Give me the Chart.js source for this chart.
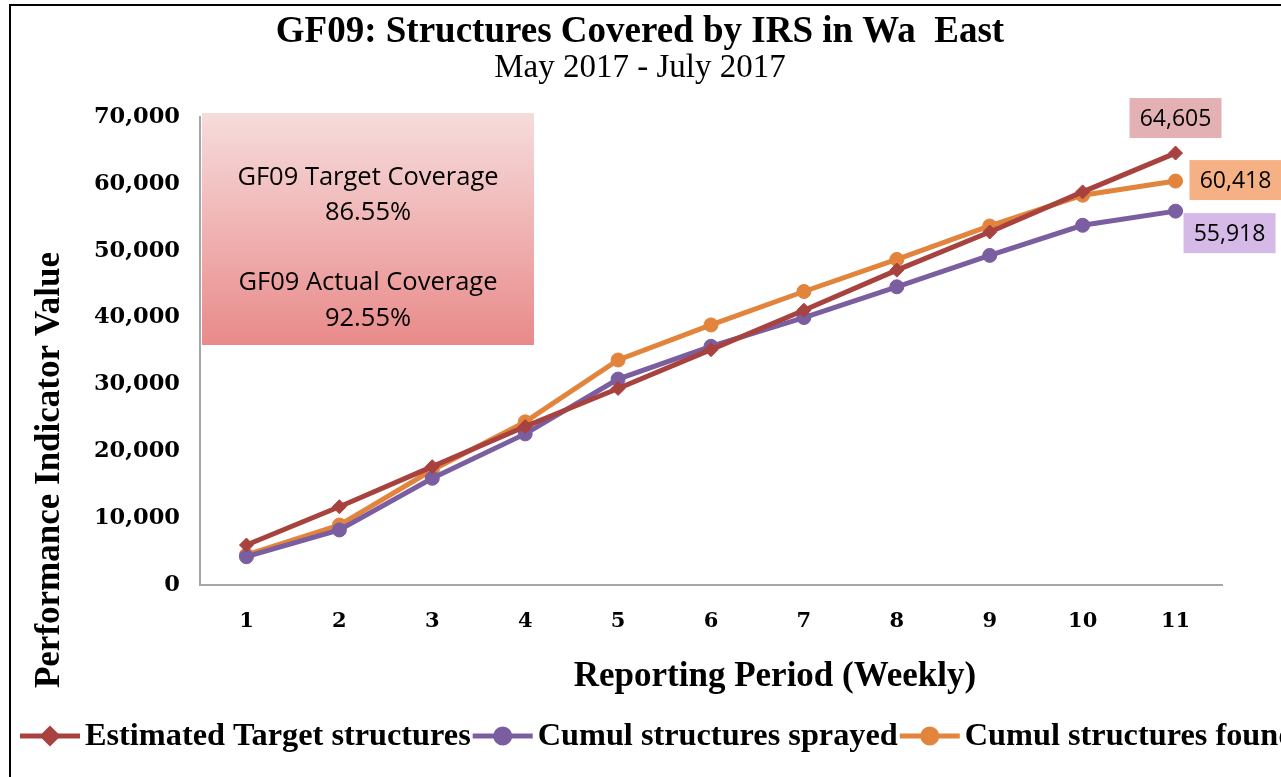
<!DOCTYPE html>
<html>
<head>
<meta charset="utf-8">
<script src="https://cdn.jsdelivr.net/npm/chart.js@4/dist/chart.umd.min.js"></script>
<style>
html,body{margin:0;padding:0;background:#fff;overflow:hidden;}
canvas{display:block;}
</style>
</head>
<body>
<canvas id="c" width="1281" height="777"></canvas>
<script>
const titleText = 'GF09: Structures Covered by IRS in Wa  East';
const subtitleText = 'May 2017 - July 2017';
const xAxisTitle = 'Reporting Period (Weekly)';
const yAxisTitle = 'Performance Indicator Value';
const categories = ['1','2','3','4','5','6','7','8','9','10','11'];
const seriesNames = ['Estimated Target structures','Cumul structures sprayed','Cumul structures found'];
const targetValues  = [5980, 11700, 17700, 23700, 29400, 35200, 41100, 47100, 52800, 58800, 64605];
const sprayedValues = [4230, 8230, 15960, 22600, 30800, 35700, 40000, 44600, 49300, 53800, 55918];
const foundValues   = [4490, 8970, 17200, 24400, 33650, 38900, 43900, 48700, 53700, 58300, 60418];
const yTickValues = [0, 10000, 20000, 30000, 40000, 50000, 60000, 70000];
const boxLines = ['GF09 Target Coverage', '86.55%', 'GF09 Actual Coverage', '92.55%'];

const SERIF = '"Liberation Serif", serif';
const TICKF = '"DejaVu Serif", serif';
const SANS = '"Open Sans", sans-serif';
const RED = '#a8423f', PURPLE = '#7b5e9f', ORANGE = '#e2843c';
const fmt = v => v.toLocaleString('en-US');

const deco = {
  id: 'deco',
  beforeDraw(chart) {
    const ctx = chart.ctx;
    ctx.save();
    ctx.fillStyle = '#fff';
    ctx.fillRect(0, 0, chart.width, chart.height);
    ctx.strokeStyle = '#000';
    ctx.lineWidth = 2;
    ctx.strokeRect(10, 5, chart.width + 30, chart.height + 30);
    ctx.restore();
  },
  beforeDatasetsDraw(chart) {
    const ctx = chart.ctx, ca = chart.chartArea;
    const x0 = ca.left + 2, y0 = ca.top - 4, w = 332, h = 232;
    ctx.save();
    const g = ctx.createLinearGradient(0, y0, 0, y0 + h);
    g.addColorStop(0, '#f6dcdc');
    g.addColorStop(1, '#e98a8a');
    ctx.fillStyle = g;
    ctx.fillRect(x0, y0, w, h);
    ctx.fillStyle = '#000';
    ctx.font = '25.5px ' + SANS;
    ctx.textAlign = 'center';
    ctx.textBaseline = 'middle';
    const cx = x0 + w / 2;
    const ys = [65, 100, 170, 206];
    boxLines.forEach((t, i) => ctx.fillText(t, cx, y0 + ys[i]));
    ctx.restore();
  },
  afterDraw(chart) {
    const ctx = chart.ctx;
    ctx.save();
    ctx.fillStyle = '#000';
    ctx.textAlign = 'center';
    ctx.textBaseline = 'middle';
    ctx.font = 'bold 37px ' + SERIF;
    ctx.fillText(titleText, 640, 32);
    ctx.font = '33px ' + SERIF;
    ctx.fillText(subtitleText, 640, 68);
    ctx.font = 'bold 35px ' + SERIF;
    ctx.fillText(xAxisTitle, 775, 677);
    ctx.save();
    ctx.translate(50, 470);
    ctx.rotate(-Math.PI / 2);
    ctx.fillText(yAxisTitle, 0, 0);
    ctx.restore();

    // data labels at last point
    const labelDefs = [
      {ds: 0, bg: '#e3b1b4', dx: 0, dy: -35},
      {ds: 2, bg: '#f5b183', dx: 60, dy: -1},
      {ds: 1, bg: '#d5b9e7', dx: 54, dy: 22}
    ];
    ctx.font = '23px ' + SANS;
    labelDefs.forEach(d => {
      const meta = chart.getDatasetMeta(d.ds);
      const n = meta.data.length - 1;
      const pt = meta.data[n];
      const txt = fmt(chart.data.datasets[d.ds].data[n]);
      const cx = pt.x + d.dx, cy = pt.y + d.dy;
      const bw = 92, bh = 40;
      ctx.fillStyle = d.bg;
      ctx.fillRect(cx - bw / 2, cy - bh / 2, bw, bh);
      ctx.fillStyle = '#000';
      ctx.fillText(txt, cx, cy + 1);
    });

    // legend
    const colors = [RED, PURPLE, ORANGE];
    const styles = ['rectRot', 'circle', 'circle'];
    let x = 20;
    const y = 736;
    ctx.font = 'bold 32.3px ' + SERIF;
    ctx.textAlign = 'left';
    seriesNames.forEach((name, i) => {
      ctx.strokeStyle = colors[i];
      ctx.lineWidth = 5;
      ctx.beginPath();
      ctx.moveTo(x, y);
      ctx.lineTo(x + 60, y);
      ctx.stroke();
      ctx.fillStyle = colors[i];
      Chart.helpers.drawPoint(ctx, {pointStyle: styles[i], radius: 7, borderWidth: 1}, x + 30, y);
      ctx.fillStyle = '#000';
      x += 65;
      ctx.fillText(name, x, y + 1);
      x += ctx.measureText(name).width + 2;
    });
    ctx.restore();
  }
};

const mk = (label, data, color, style) => ({
  label, data,
  borderColor: color, backgroundColor: color,
  borderWidth: 5,
  pointStyle: style, pointRadius: 7, pointBorderWidth: 1,
  pointBackgroundColor: color, pointBorderColor: color,
  tension: 0
});

new Chart(document.getElementById('c'), {
  type: 'line',
  data: {
    labels: categories,
    datasets: [
      mk(seriesNames[0], targetValues, RED, 'rectRot'),
      mk(seriesNames[1], sprayedValues, PURPLE, 'circle'),
      mk(seriesNames[2], foundValues, ORANGE, 'circle')
    ]
  },
  options: {
    responsive: false,
    animation: false,
    devicePixelRatio: 1,
    layout: {padding: {left: 0, right: 59, top: 117, bottom: 0}},
    plugins: {legend: {display: false}, title: {display: false}, tooltip: {enabled: false}},
    scales: {
      x: {
        offset: true,
        grid: {display: true, drawOnChartArea: false, drawTicks: false},
        border: {color: '#a6a6a6', width: 2},
        ticks: {font: {family: TICKF, size: 21, weight: 'bold'}, color: '#000', padding: 24},
        afterFit(s) { s.height = 192; }
      },
      y: {
        min: 0, max: 70000,
        afterBuildTicks(s) { s.ticks = yTickValues.map(v => ({value: v})); },
        grid: {display: true, drawOnChartArea: false, drawTicks: false},
        border: {color: '#a6a6a6', width: 2},
        ticks: {font: {family: TICKF, size: 22.5, weight: 'bold'}, color: '#000', padding: 20, callback: v => fmt(v)},
        afterFit(s) { s.width = 200; }
      }
    }
  },
  plugins: [deco]
});
</script>
</body>
</html>
